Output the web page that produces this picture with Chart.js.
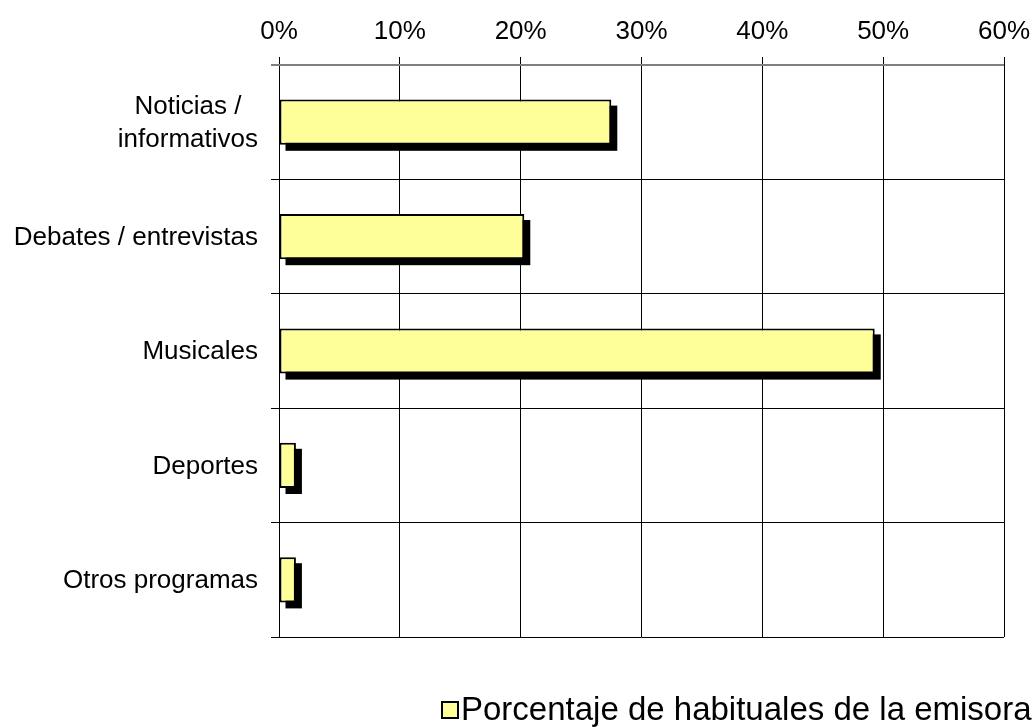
<!DOCTYPE html>
<html>
<head>
<meta charset="utf-8">
<script src="https://cdn.jsdelivr.net/npm/chart.js@4/dist/chart.umd.min.js"></script>
<style>
  html, body { margin: 0; padding: 0; background: #fff; overflow: hidden; }
  #wrap { width: 1036px; height: 727px; position: relative; }
</style>
</head>
<body>
<div id="wrap"><canvas id="c"></canvas></div>
<script>
const categories = [['Noticias /', 'informativos'], 'Debates / entrevistas', 'Musicales', 'Deportes', 'Otros programas'];
const seriesLabel = 'Porcentaje de habituales de la emisora';
const seriesValues = [27.5, 20.3, 49.3, 1.4, 1.4];
const xTickValues = [0, 10, 20, 30, 40, 50, 60];

const FONT = '"Liberation Sans", Arial, Helvetica, sans-serif';
const BAR_FILL = '#FFFF99';

const shadowPlugin = {
  id: 'barShadow',
  beforeDatasetsDraw(chart) {
    const ctx = chart.ctx;
    const meta = chart.getDatasetMeta(0);
    ctx.save();
    ctx.fillStyle = '#000';
    meta.data.forEach(el => {
      const p = el.getProps(['x', 'y', 'base', 'height'], true);
      const left = Math.min(p.x, p.base), w = Math.abs(p.x - p.base);
      ctx.fillRect(left + 6, p.y - p.height / 2 + 6, w, p.height);
    });
    ctx.restore();
  }
};

const yLabelPlugin = {
  id: 'yLabels',
  afterDraw(chart) {
    const ctx = chart.ctx;
    const y = chart.scales.y;
    const rightEdge = chart.chartArea.left - 21;
    const lh = 33;
    ctx.save();
    ctx.font = '26px ' + FONT;
    ctx.fillStyle = '#000';
    ctx.textAlign = 'center';
    ctx.textBaseline = 'middle';
    chart.data.labels.forEach((lab, i) => {
      const lines = Array.isArray(lab) ? lab : [lab];
      const maxW = Math.max(...lines.map(l => ctx.measureText(l).width));
      const cx = rightEdge - maxW / 2;
      const cy = y.getPixelForTick(i);
      lines.forEach((l, j) => {
        ctx.fillText(l, cx, cy + (j - (lines.length - 1) / 2) * lh + 1);
      });
    });
    ctx.restore();
  }
};

const legendPlugin = {
  id: 'customLegend',
  afterDraw(chart) {
    const ctx = chart.ctx;
    const ds = chart.data.datasets[0];
    ctx.save();
    const bx = 442, by = 702, bs = 16;
    ctx.fillStyle = ds.backgroundColor;
    ctx.fillRect(bx, by, bs, bs);
    ctx.strokeStyle = '#000';
    ctx.lineWidth = 2;
    ctx.strokeRect(bx, by, bs, bs);
    ctx.font = '33px ' + FONT;
    ctx.fillStyle = '#000';
    ctx.textAlign = 'left';
    ctx.textBaseline = 'alphabetic';
    ctx.fillText(ds.label, 461, 720);
    ctx.restore();
  }
};

new Chart(document.getElementById('c'), {
  type: 'bar',
  data: {
    labels: categories,
    datasets: [{
      label: seriesLabel,
      data: seriesValues,
      backgroundColor: BAR_FILL,
      borderColor: '#000',
      borderWidth: 2,
      borderSkipped: false,
      barPercentage: 0.395,
      categoryPercentage: 1.0
    }]
  },
  options: {
    indexAxis: 'y',
    responsive: true,
    maintainAspectRatio: false,
    animation: false,
    layout: { padding: { left: 0, right: 32, top: 0, bottom: 90 } },
    plugins: {
      legend: { display: false },
      tooltip: { enabled: false }
    },
    scales: {
      x: {
        position: 'top',
        min: 0,
        max: 60,
        afterBuildTicks(scale) {
          scale.ticks = xTickValues.map(v => ({ value: v }));
        },
        afterFit(scale) {
          scale.height = 65;
          scale.paddingLeft = 0;
          scale.paddingRight = 0;
        },
        ticks: {
          callback: v => v + '%',
          font: { family: FONT, size: 26 },
          color: '#000',
          padding: 10,
          maxRotation: 0
        },
        grid: {
          color: '#000',
          lineWidth: 1,
          drawTicks: true,
          tickLength: 8,
          tickColor: '#000'
        },
        border: { display: false }
      },
      y: {
        afterFit(scale) { scale.width = 279; },
        ticks: {
          color: 'rgba(0,0,0,0)',
          font: { family: FONT, size: 26 }
        },
        grid: {
          offset: true,
          color: ctx => (ctx.index === 0 || ctx.index === categories.length) ? '#808080' : '#000',
          lineWidth: ctx => (ctx.index === 0 || ctx.index === categories.length) ? 2 : 1,
          drawTicks: true,
          tickLength: 8
        },
        border: { display: false }
      }
    }
  },
  plugins: [shadowPlugin, yLabelPlugin, legendPlugin]
});
</script>
</body>
</html>
